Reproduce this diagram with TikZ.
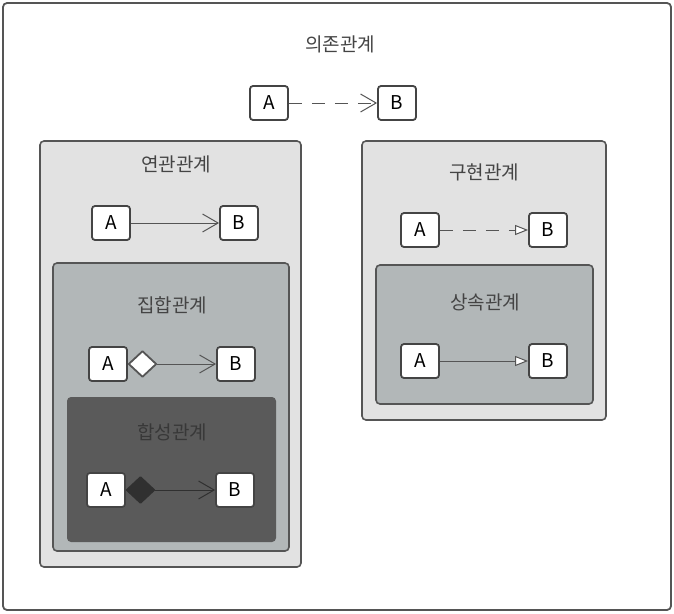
\documentclass[tikz,border=0pt]{standalone}
\usepackage{fontspec}
\setmainfont{Noto Sans CJK KR}
\usepackage{tikz}
\usetikzlibrary{positioning,arrows.meta}
\definecolor{edge}{HTML}{555555}
\definecolor{ink}{HTML}{444444}
\definecolor{paneA}{HTML}{E2E2E2}
\definecolor{paneB}{HTML}{B2B7B8}
\definecolor{paneC}{HTML}{5A5A5A}

\begin{document}
\begin{tikzpicture}[x=1pt,y=-1pt,
    cls/.style={draw=ink, line width=1.8pt, rounded corners=3pt, fill=white,
        minimum width=38pt, minimum height=34pt, inner sep=0pt,
        font=\fontsize{19}{21}\selectfont, text=black},
    title/.style={font=\fontsize{19}{22}\selectfont, text=ink},
    pane/.style={draw=edge, line width=1.6pt, rounded corners=4pt},
    rel/.style={draw=edge, line width=1pt},
    gap/.style={dash pattern=on 13pt off 10pt},
    barb/.tip={Straight Barb[angle=60:18pt 0,line width=1pt]},
    open/.style={-barb},
    realize/.style={-{Triangle[open,fill=white,length=13pt,width=10pt,line width=1pt]}}]
    \useasboundingbox (0,0) rectangle (674,613);
    \draw[pane, fill=white, line width=1.8pt] (3,3) rectangle (671,610);
    \draw[pane, fill=paneA] (40,141) rectangle (301,567);
    \draw[pane, fill=paneB] (53,263) rectangle (289,551);
    \draw[fill=paneC, draw=none, rounded corners=4pt] (67,397) rectangle (276,542);
    \draw[pane, fill=paneA] (362,141) rectangle (606,420);
    \draw[pane, fill=paneB] (376,265) rectangle (593,404);

    \node[title] (depT) at (340,44) {의존관계};
    \node[cls] (depA) at (269,103) {A};
    \node[cls] (depB) at (397,103) {B};
    \draw[rel, gap, open] (depA) -- (depB);

    \node[title] (assT) at (176,164) {연관관계};
    \node[cls] (assA) at (111,223) {A};
    \node[cls] (assB) at (239,223) {B};
    \draw[rel, open] (assA) -- (assB);

    \node[title] (aggT) at (172,305) {집합관계};
    \node[cls] (aggA) at (108,364) {A};
    \node[cls] (aggB) at (236,364) {B};
    \draw[rel, {Diamond[open,fill=white,length=30pt,width=28pt,line width=1.8pt,round]}-barb] (aggA) -- (aggB);

    \node[title, text=black!78] (comT) at (172,432) {합성관계};
    \node[cls] (comA) at (106,490) {A};
    \node[cls] (comB) at (235,490) {B};
    \draw[rel, draw=ink!70!black, {Diamond[fill=ink!70!black,length=30pt,width=28pt,line width=1.8pt,round]}-barb] (comA) -- (comB);

    \node[title] (reaT) at (484,172) {구현관계};
    \node[cls] (reaA) at (420,230) {A};
    \node[cls] (reaB) at (548,230) {B};
    \draw[rel, gap, realize] (reaA) -- (reaB);

    \node[title] (inhT) at (485,302) {상속관계};
    \node[cls] (inhA) at (420,361) {A};
    \node[cls] (inhB) at (548,361) {B};
    \draw[rel, realize] (inhA) -- (inhB);
\end{tikzpicture}
\end{document}
